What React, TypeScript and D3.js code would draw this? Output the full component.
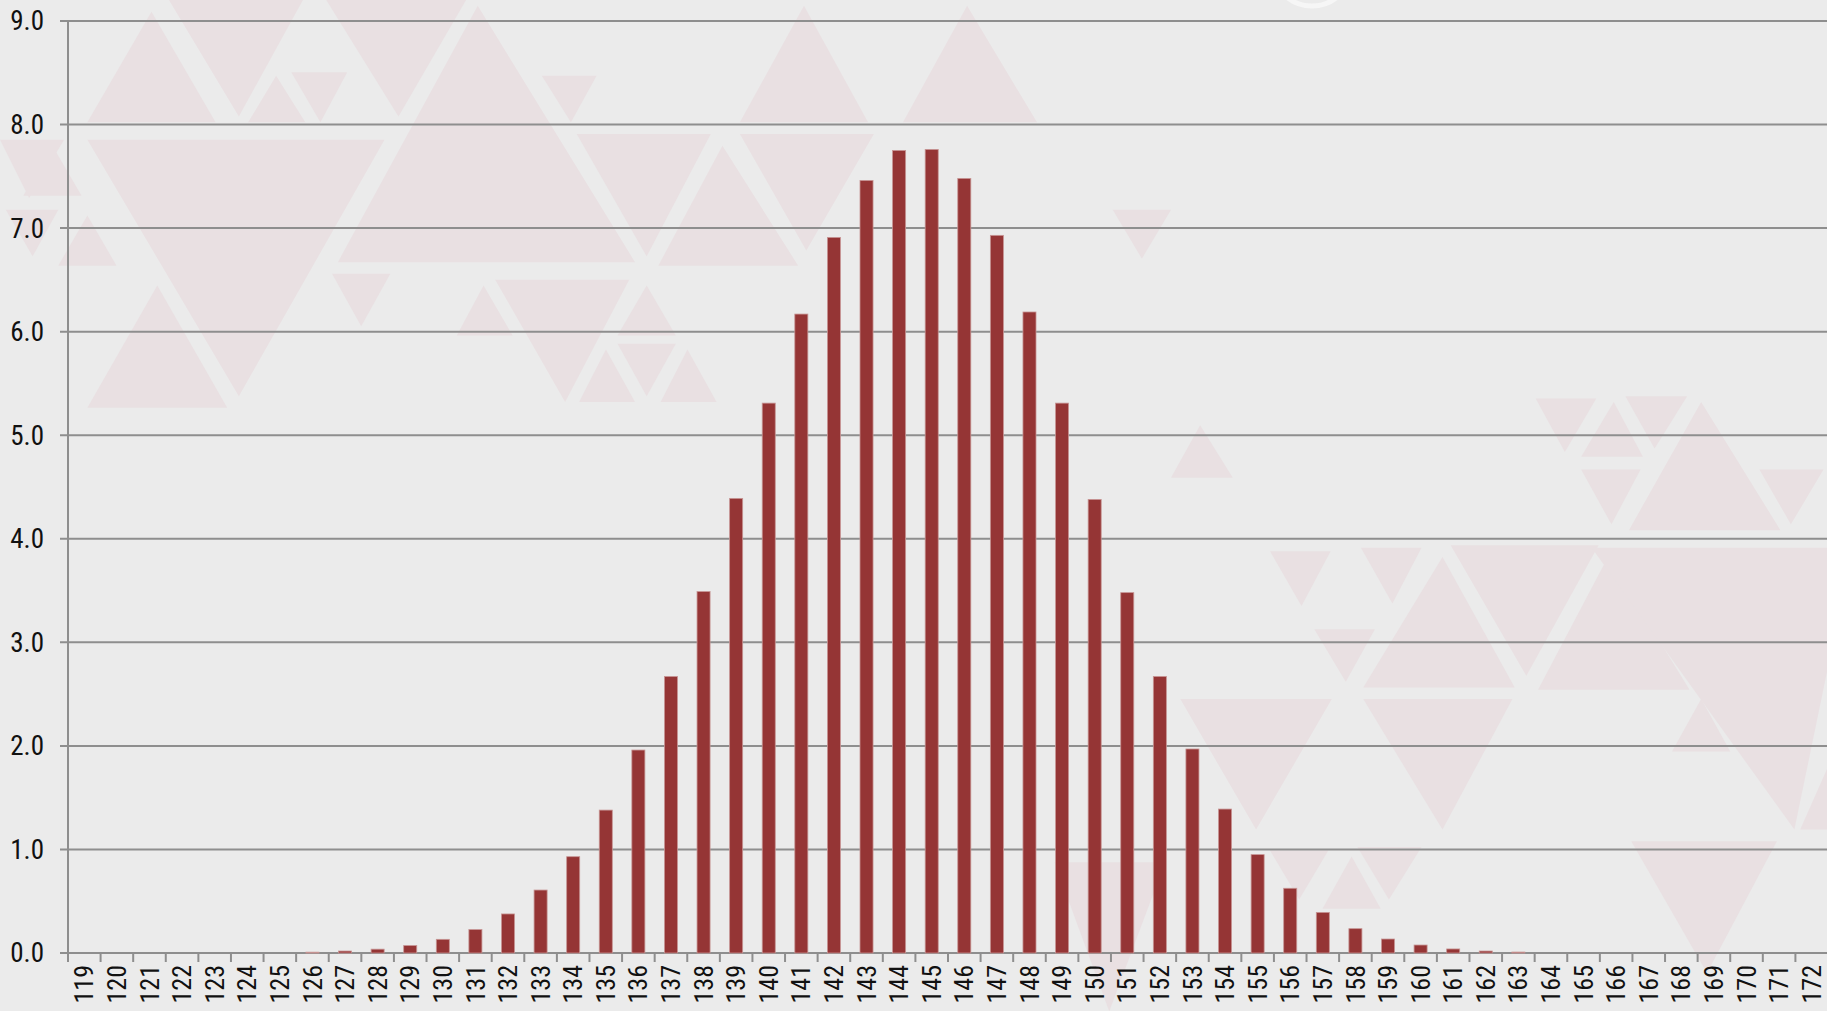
import React from 'react';
import * as d3 from 'd3';

// categories 119..172 and their bar values
const categories = [
  '119', '120', '121', '122', '123', '124', '125', '126', '127', '128',
  '129', '130', '131', '132', '133', '134', '135', '136', '137', '138',
  '139', '140', '141', '142', '143', '144', '145', '146', '147', '148',
  '149', '150', '151', '152', '153', '154', '155', '156', '157', '158',
  '159', '160', '161', '162', '163', '164', '165', '166', '167', '168',
  '169', '170', '171', '172',
];

const values = [
  0, 0, 0, 0, 0, 0, 0, 0.008, 0.019, 0.037,
  0.072, 0.132, 0.226, 0.377, 0.608, 0.93, 1.38, 1.96, 2.67, 3.49,
  4.39, 5.31, 6.17, 6.91, 7.46, 7.75, 7.76, 7.48, 6.93, 6.19,
  5.31, 4.38, 3.48, 2.67, 1.97, 1.39, 0.95, 0.625, 0.392, 0.235,
  0.135, 0.077, 0.039, 0.019, 0.009, 0, 0, 0, 0, 0,
  0, 0, 0, 0,
];

const yTicks = [0, 1, 2, 3, 4, 5, 6, 7, 8, 9];

// background decoration: triangles, given in the 1568-wide layout and scaled up
const decoScale = 1827 / 1568;
const decoTriangles: number[][] = [
  // pointing up
  [130, 10, 75, 105, 185, 105],
  [410, 5, 290, 225, 545, 225],
  [690, 5, 635, 105, 745, 105],
  [830, 5, 775, 105, 890, 105],
  [620, 125, 565, 228, 685, 228],
  [135, 245, 75, 350, 195, 350],
  [415, 245, 392, 288, 440, 288],
  [555, 245, 530, 288, 580, 288],
  [520, 300, 497, 345, 545, 345],
  [590, 300, 567, 345, 615, 345],
  [237, 65, 213, 105, 262, 105],
  [45, 125, 20, 168, 70, 168],
  [75, 185, 50, 228, 100, 228],
  [1030, 365, 1005, 410, 1058, 410],
  [1385, 345, 1357, 392, 1410, 392],
  [1460, 345, 1398, 455, 1528, 455],
  [1238, 478, 1170, 590, 1300, 590],
  [1380, 478, 1320, 592, 1450, 592],
  [1160, 735, 1135, 780, 1185, 780],
  [1460, 600, 1435, 645, 1485, 645],
  [1568, 660, 1545, 712, 1590, 712],
  // pointing down
  [145, 0, 260, 0, 205, 100],
  [280, 0, 400, 0, 342, 100],
  [75, 120, 330, 120, 205, 340],
  [495, 115, 610, 115, 555, 220],
  [635, 115, 750, 115, 692, 215],
  [465, 65, 512, 65, 490, 105],
  [250, 62, 298, 62, 275, 105],
  [285, 235, 335, 235, 310, 280],
  [425, 240, 540, 240, 485, 345],
  [530, 295, 580, 295, 555, 340],
  [955, 180, 1005, 180, 980, 222],
  [0, 120, 55, 120, 25, 170],
  [5, 180, 50, 180, 28, 220],
  [1318, 342, 1370, 342, 1343, 388],
  [1395, 340, 1448, 340, 1420, 385],
  [1357, 403, 1408, 403, 1383, 450],
  [1510, 403, 1565, 403, 1537, 450],
  [1090, 473, 1142, 473, 1117, 520],
  [1168, 470, 1220, 470, 1195, 518],
  [1245, 468, 1372, 468, 1310, 580],
  [1366, 470, 1590, 470, 1540, 712],
  [1128, 540, 1180, 540, 1155, 585],
  [1013, 600, 1143, 600, 1078, 712],
  [1170, 600, 1298, 600, 1238, 712],
  [1400, 722, 1525, 722, 1465, 835],
  [1090, 730, 1140, 730, 1115, 772],
  [1165, 727, 1220, 727, 1192, 772],
  [905, 740, 1000, 740, 952, 868],
];

const W = 1827;
const H = 1011;
const margin = { left: 68, right: -1, top: 21, bottom: 58 };
const labelFont = "'Liberation Sans Narrow', 'Arial Narrow', 'Roboto Condensed', sans-serif";

const App = () => {
  const x = d3.scaleBand<string>()
    .domain(categories)
    .range([margin.left, W - margin.right])
    .padding(0);

  const y = d3.scaleLinear()
    .domain([0, 9])
    .range([H - margin.bottom, margin.top]);

  const barW = x.bandwidth() * 0.4;
  const y0 = y(0);

  return (
    <svg width={W} height={H} style={{ position: 'absolute', left: 0, top: 0, display: 'block' }}>
      <rect x={0} y={0} width={W} height={H} fill="#ebebeb" />

      {/* decorative triangle pattern */}
      <g fill="#e9e0e2">
        {decoTriangles.map((t, i) => (
          <polygon
            key={i}
            points={`${t[0] * decoScale},${t[1] * decoScale} ${t[2] * decoScale},${t[3] * decoScale} ${t[4] * decoScale},${t[5] * decoScale}`}
          />
        ))}
      </g>
      <circle cx={1312} cy={-34} r={40} fill="none" stroke="#f6f6f6" strokeWidth={5} />

      {/* gridlines + y labels */}
      <g>
        {yTicks.map(t => (
          <g key={t}>
            <line x1={margin.left - 8} x2={W} y1={y(t)} y2={y(t)} stroke="#8e8e8e" strokeWidth={2} />
            <text
              x={44}
              y={y(t)}
              dy="0.35em"
              textAnchor="end"
              fontFamily={labelFont}
              fontSize={27}
              fill="#111"
            >
              {d3.format('.1f')(t)}
            </text>
          </g>
        ))}
      </g>

      {/* bars */}
      <g>
        {categories.map((c, i) => {
          const v = values[i];
          if (v <= 0) return null;
          const cx = (x(c) ?? 0) + x.bandwidth() / 2;
          const top = y(v);
          return (
            <rect
              key={c}
              x={cx - barW / 2}
              y={top}
              width={barW}
              height={Math.max(0.5, y0 - top)}
              fill="#953535"
              stroke="#c79594"
              strokeWidth={0.8}
            />
          );
        })}
      </g>

      {/* axes */}
      <line x1={margin.left} x2={margin.left} y1={margin.top} y2={y0 + 9} stroke="#8e8e8e" strokeWidth={2} />
      <g>
        {categories.map(c => (
          <line
            key={c}
            x1={x(c) ?? 0}
            x2={x(c) ?? 0}
            y1={y0}
            y2={y0 + 9}
            stroke="#8e8e8e"
            strokeWidth={2}
          />
        ))}
        {categories.map(c => {
          const cx = (x(c) ?? 0) + x.bandwidth() / 2;
          return (
            <text
              key={c}
              transform={`translate(${cx},${y0 + 12}) rotate(-90)`}
              dy="0.35em"
              textAnchor="end"
              fontFamily={labelFont}
              fontSize={26}
              fill="#111"
            >
              {c}
            </text>
          );
        })}
      </g>
    </svg>
  );
};

export default App;
